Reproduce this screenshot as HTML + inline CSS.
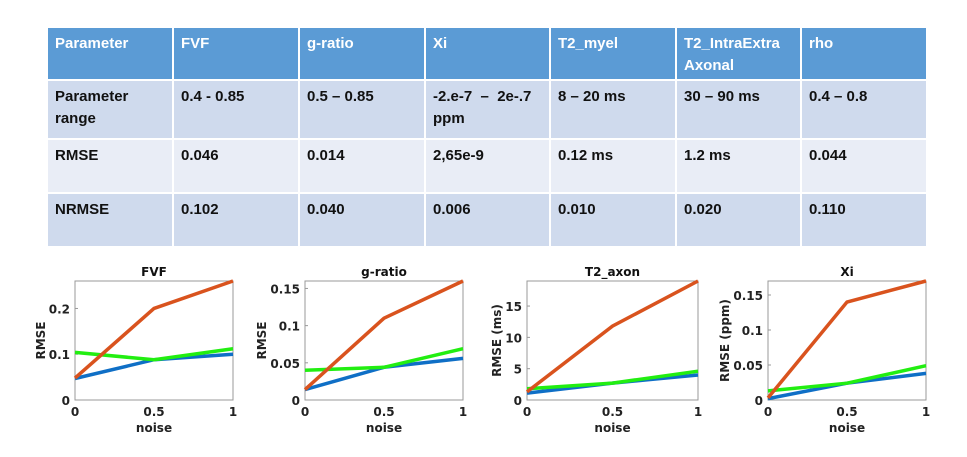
<!DOCTYPE html>
<html><head><meta charset="utf-8"><style>
body{margin:0;width:967px;height:457px;background:#fff;position:relative;overflow:hidden;font-family:"Liberation Sans",sans-serif}
.c{position:absolute;box-sizing:border-box;padding:5px 0 0 7px;font-weight:bold;font-size:15px;line-height:22px;color:#111}
.h{background:#5b9bd5;color:#fff}
.r1{background:#cfdaed}.r2{background:#e9edf6}.r3{background:#cfdaed}
svg{position:absolute;left:0;top:0}
svg text{font-family:"DejaVu Sans",sans-serif;font-weight:bold}
</style></head><body>
<div id="tbl"></div>
<svg id="ch" width="967" height="457"></svg>
<script>
const colX=[48,174,300,426,551,677,802,928];
const rowY=[[28,79],[81,138],[140,192],[194,246]];
const header=["Parameter","FVF","g-ratio","Xi","T2_myel","T2_IntraExtra<br>Axonal","rho"];
const rangeRow=["Parameter<br>range","0.4 - 0.85","0.5 – 0.85","-2.e-7 &nbsp;– &nbsp;2e-.7<br>ppm","8 – 20 ms","30 – 90 ms","0.4 – 0.8"];
const rmseRow=["RMSE","0.046","0.014","2,65e-9","0.12 ms","1.2 ms","0.044"];
const nrmseRow=["NRMSE","0.102","0.040","0.006","0.010","0.020","0.110"];
const rows=[header,rangeRow,rmseRow,nrmseRow];
const cls=["h","r1","r2","r3"];
const names=["header","range","rmse","nrmse"];
const T=document.getElementById('tbl');
rows.forEach((r,ri)=>r.forEach((t,ci)=>{
 const d=document.createElement('div');
 d.className='c '+cls[ri];
 d.style.left=colX[ci]+'px';d.style.top=rowY[ri][0]+'px';
 d.style.width=(colX[ci+1]-colX[ci]-2)+'px';d.style.height=(rowY[ri][1]-rowY[ri][0])+'px';
 d.innerHTML=t;
 
 
 T.appendChild(d);
}));

const noise=[0,0.5,1];
const titles=["FVF","g-ratio","T2_axon","Xi"];
const ylabels=["RMSE","RMSE","RMSE (ms)","RMSE (ppm)"];
const ymaxes=[0.26,0.16,19,0.17];
const yticks=[[0,0.1,0.2],[0,0.05,0.1,0.15],[0,5,10,15],[0,0.05,0.1,0.15]];
const ytickLabels=[["0","0.1","0.2"],["0","0.05","0.1","0.15"],["0","5","10","15"],["0","0.05","0.1","0.15"]];
const orange=[[0.048,0.2,0.26],[0.014,0.11,0.16],[1.3,11.8,19],[0.003,0.14,0.17]];
const blue=[[0.047,0.088,0.1],[0.014,0.044,0.056],[1.1,2.7,4],[0.002,0.024,0.038]];
const green=[[0.104,0.088,0.112],[0.04,0.044,0.069],[1.8,2.7,4.6],[0.013,0.024,0.049]];
const boxes=[[75,233],[305,463],[527,698],[768,926]];
const ylabelX=[41,262,497,725];
const yTop=281,yBot=400;
const S=document.getElementById('ch');const NS='http://www.w3.org/2000/svg';
function el(tag,attrs,txt){const e=document.createElementNS(NS,tag);for(const k in attrs)e.setAttribute(k,attrs[k]);if(txt!==undefined)e.textContent=txt;S.appendChild(e);return e;}
titles.forEach((ti,i)=>{
 const x0=boxes[i][0],x1=boxes[i][1];
 const xs=v=>x0+v*(x1-x0), ys=v=>yBot-v/ymaxes[i]*(yBot-yTop);
 const fr=el('rect',{x:x0,y:yTop,width:x1-x0,height:yBot-yTop,fill:'#fff',stroke:'#999','stroke-width':1});
 
 
 const t=el('text',{x:(x0+x1)/2,y:276,'text-anchor':'middle','font-size':12,fill:'#111'},ti);
 
 
 yticks[i].forEach((v,k)=>{
  const y=ys(v);
  el('line',{x1:x0,x2:x0+3,y1:y,y2:y,stroke:'#999'});
  const l=el('text',{x:x0-5,y:y+5,'text-anchor':'end','font-size':12,fill:'#222'},ytickLabels[i][k]);
  
  
 });
 ["0","0.5","1"].forEach((s,k)=>{
  const x=xs(noise[k]);
  const l=el('text',{x:x,y:416,'text-anchor':'middle','font-size':12,fill:'#222'},s);
  
  
 });
 const xl=el('text',{x:(x0+x1)/2,y:432,'text-anchor':'middle','font-size':12,fill:'#222'},'noise');
 
 
 const yx=ylabelX[i]+4;
 const cy=(yTop+yBot)/2;
 const yl=el('text',{x:yx,y:cy,'text-anchor':'middle','font-size':12,fill:'#222',transform:'rotate(-90 '+yx+' '+cy+')'},ylabels[i]);
 
 
 [[blue,'#0f6fc6','blue'],[green,'#22ee11','green'],[orange,'#d9531e','orange']].forEach(([arr,c,n])=>{
  const p=el('polyline',{points:noise.map((v,k)=>xs(v)+','+ys(arr[i][k])).join(' '),fill:'none',stroke:c,'stroke-width':3.5});
  
  
 });
});
</script>
</body></html>
